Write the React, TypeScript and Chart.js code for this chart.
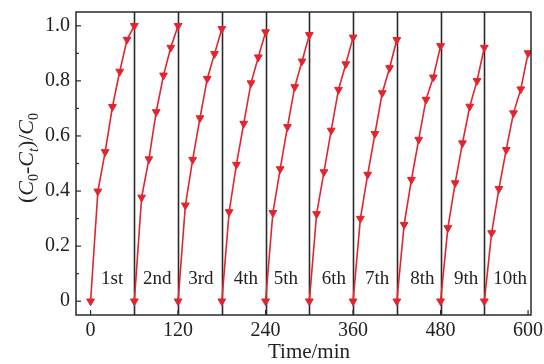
import React, { useEffect, useRef } from "react";
import { Chart, registerables } from "chart.js";

Chart.register(...registerables);

// ---- data ----
const cycleStarts = [0, 60, 120, 180, 240, 300, 360, 420, 480, 540];
const sampleTimes = [0, 10, 20, 30, 40, 50, 60];
const cycle1 = [0, 0.399, 0.542, 0.706, 0.834, 0.95, 1.0];
const cycle2 = [0, 0.377, 0.516, 0.687, 0.82, 0.921, 1.0];
const cycle3 = [0, 0.348, 0.514, 0.665, 0.808, 0.898, 0.989];
const cycle4 = [0, 0.324, 0.496, 0.645, 0.792, 0.886, 0.977];
const cycle5 = [0, 0.321, 0.48, 0.633, 0.778, 0.871, 0.967];
const cycle6 = [0, 0.317, 0.469, 0.62, 0.768, 0.861, 0.958];
const cycle7 = [0, 0.3, 0.46, 0.608, 0.756, 0.847, 0.949];
const cycle8 = [0, 0.278, 0.441, 0.587, 0.732, 0.813, 0.927];
const cycle9 = [0, 0.266, 0.429, 0.574, 0.707, 0.8, 0.921];
const cycle10 = [0, 0.248, 0.408, 0.55, 0.683, 0.77, 0.901];
const cycles = [cycle1, cycle2, cycle3, cycle4, cycle5, cycle6, cycle7, cycle8, cycle9, cycle10];

const cycleLabels = ["1st", "2nd", "3rd", "4th", "5th", "6th", "7th", "8th", "9th", "10th"];
const cycleLabelX = [29.6, 91.3, 151.3, 212.9, 267.9, 333.8, 393.1, 455, 515, 575.4];
const cycleLabelY = 0.079;

const dividerTimes = [60, 120, 180, 240, 300, 360, 420, 480, 540];
const xTicks = [0, 120, 240, 360, 480, 600];
const yTicks = [0, 0.2, 0.4, 0.6, 0.8, 1.0];
const yMinorTicks = [0.1, 0.3, 0.5, 0.7, 0.9];
const xTitle = "Time/min";

const RED = "#e3242f";
const FRAME = "#2a2a2a";
const FONT = "'Liberation Serif', 'Times New Roman', serif";

const overlay = {
  id: "overlay",
  beforeDatasetsDraw(chart: any) {
    const { ctx, chartArea: a, scales } = chart;
    const xs = scales.x, ys = scales.y;
    ctx.save();
    ctx.strokeStyle = FRAME;
    ctx.lineWidth = 1.6;
    dividerTimes.forEach((t) => {
      const px = Math.round(xs.getPixelForValue(t)) + 0.5;
      ctx.beginPath();
      ctx.moveTo(px, a.top);
      ctx.lineTo(px, a.bottom);
      ctx.stroke();
    });
    // cycle labels
    ctx.fillStyle = "#222";
    ctx.font = `19px ${FONT}`;
    ctx.textAlign = "center";
    ctx.textBaseline = "middle";
    cycleLabels.forEach((l, i) => {
      ctx.fillText(l, xs.getPixelForValue(cycleLabelX[i]), ys.getPixelForValue(cycleLabelY));
    });
    ctx.restore();
  },
  afterDraw(chart: any) {
    const { ctx, chartArea: a, scales } = chart;
    const xs = scales.x, ys = scales.y;
    ctx.save();
    ctx.strokeStyle = FRAME;
    ctx.lineWidth = 1.5;
    ctx.strokeRect(a.left, a.top, a.right - a.left, a.bottom - a.top);
    ctx.lineWidth = 1.2;
    yTicks.forEach((v) => {
      const py = ys.getPixelForValue(v);
      ctx.beginPath();
      ctx.moveTo(a.left, py);
      ctx.lineTo(a.left + 5, py);
      ctx.stroke();
    });
    yMinorTicks.forEach((v) => {
      const py = ys.getPixelForValue(v);
      ctx.beginPath();
      ctx.moveTo(a.left, py);
      ctx.lineTo(a.left + 3, py);
      ctx.stroke();
    });
    xTicks.forEach((v) => {
      const px = xs.getPixelForValue(v);
      ctx.beginPath();
      ctx.moveTo(px, a.bottom);
      ctx.lineTo(px, a.bottom - 5);
      ctx.stroke();
    });
    // x title
    ctx.fillStyle = "#222";
    ctx.font = `21px ${FONT}`;
    ctx.textAlign = "center";
    ctx.textBaseline = "alphabetic";
    ctx.fillText(xTitle, 309, 358);

    // y title (C0-Ct)/C0
    const main = 22, sub = 14;
    const parts = [
      { t: "(", it: false, s: false },
      { t: "C", it: true, s: false },
      { t: "0", it: false, s: true },
      { t: "-", it: false, s: false },
      { t: "C", it: true, s: false },
      { t: "t", it: true, s: true },
      { t: ")/", it: false, s: false },
      { t: "C", it: true, s: false },
      { t: "0", it: false, s: true },
    ];
    const fontOf = (p: any) => `${p.it ? "italic " : ""}${p.s ? sub : main}px ${FONT}`;
    let total = 0;
    const widths = parts.map((p) => {
      ctx.font = fontOf(p);
      const w = ctx.measureText(p.t).width;
      total += w;
      return w;
    });
    ctx.translate(33, 158);
    ctx.rotate(-Math.PI / 2);
    ctx.textAlign = "left";
    let x = -total / 2;
    parts.forEach((p, i) => {
      ctx.font = fontOf(p);
      ctx.fillText(p.t, x, p.s ? 5 : 0);
      x += widths[i];
    });
    ctx.restore();
  },
};

export default function App() {
  const ref = useRef<HTMLCanvasElement>(null);
  useEffect(() => {
    if (!ref.current) return;
    const datasets = cycles.map((vals, ci) => ({
      data: vals.map((v, i) => ({ x: cycleStarts[ci] + sampleTimes[i], y: v })),
      borderColor: RED,
      backgroundColor: RED,
      borderWidth: 1.6,
      pointStyle: "triangle" as const,
      rotation: 180,
      pointRadius: 4.5,
      pointBorderWidth: 1,
      pointBackgroundColor: RED,
      pointBorderColor: RED,
      tension: 0,
    }));
    const chart = new Chart(ref.current, {
      type: "line",
      data: { datasets },
      options: {
        animation: false,
        responsive: false,
        layout: { padding: { left: 0, right: 13, top: 12, bottom: 0 } },
        plugins: { legend: { display: false }, tooltip: { enabled: false } },
        scales: {
          x: {
            type: "linear",
            min: -20,
            max: 604,
            grid: { display: false, drawTicks: false },
            border: { display: false },
            afterBuildTicks: (s: any) => {
              s.ticks = xTicks.map((v) => ({ value: v }));
            },
            afterFit: (s: any) => {
              s.height = 49;
              s.paddingLeft = 0;
              s.paddingRight = 0;
              s.paddingTop = 0;
              s.paddingBottom = 0;
            },
            ticks: {
              padding: 4,
              color: "#222",
              font: { family: FONT, size: 20 },
              maxRotation: 0,
              autoSkip: false,
            },
          },
          y: {
            type: "linear",
            min: -0.05,
            max: 1.05,
            grid: { display: false, drawTicks: false },
            border: { display: false },
            afterBuildTicks: (s: any) => {
              s.ticks = yTicks.map((v) => ({ value: v }));
            },
            afterFit: (s: any) => {
              s.width = 76;
              s.paddingLeft = 0;
              s.paddingRight = 0;
              s.paddingTop = 0;
              s.paddingBottom = 0;
            },
            ticks: {
              padding: 6,
              color: "#222",
              font: { family: FONT, size: 20 },
              callback: (v: any) => (v === 0 ? "0" : Number(v).toFixed(1)),
            },
          },
        },
      },
      plugins: [overlay],
    });
    return () => chart.destroy();
  }, []);
  return (
    <canvas
      ref={ref}
      width={544}
      height={364}
      style={{ position: "fixed", left: 0, top: 0, width: 544, height: 364, background: "#fff" }}
    />
  );
}
